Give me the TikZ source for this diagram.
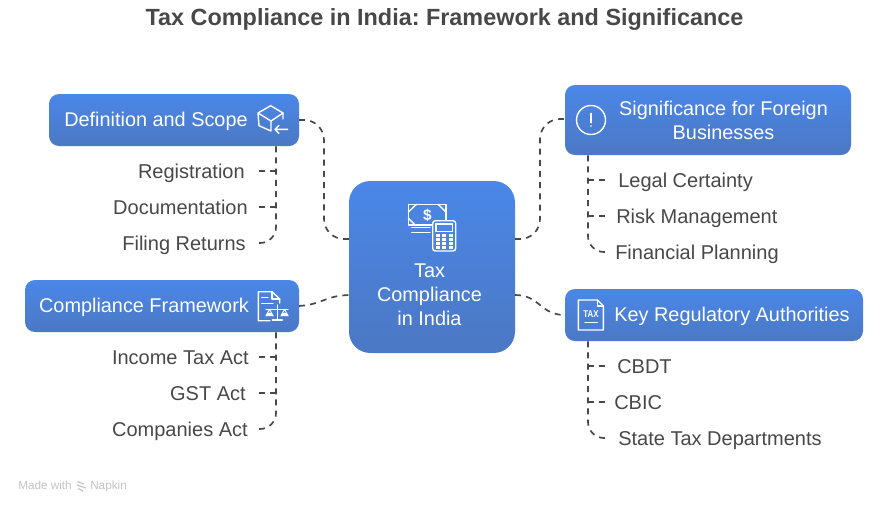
\documentclass[tikz,border=0pt]{standalone}
\usepackage{fontspec}
\setmainfont{Liberation Sans}
\usetikzlibrary{calc}
\definecolor{boxtop}{HTML}{4A87E8}
\definecolor{boxbot}{HTML}{4C78C4}
\definecolor{ink}{HTML}{484848}
\definecolor{wm}{HTML}{C4C4C4}
\tikzset{
  x=0.75pt,y=-0.75pt,
  boxnode/.style={rounded corners=7.5pt,top color=boxtop,bottom color=boxbot,draw=none,inner sep=0pt},
  boxtext/.style={text=white,font=\fontsize{14.9pt}{18pt}\selectfont,align=center,inner sep=0pt},
  leaflabel/.style={text=ink,font=\fontsize{15pt}{18pt}\selectfont,inner sep=0pt,text height=11pt,text depth=0.3pt},
  dashline/.style={draw=ink,line width=1.25pt,dash pattern=on 4.5pt off 3.9pt},
  icon/.style={draw=white,line width=1.05pt,line join=round,line cap=round},
  wmtext/.style={text=wm,font=\fontsize{8.8pt}{10pt}\selectfont,inner sep=0pt,anchor=west,text height=6.5pt,text depth=2pt},
}
\begin{document}
\frenchspacing
\begin{tikzpicture}
\useasboundingbox (0,0) rectangle (888,508);
\fill[white] (0,0) rectangle (888,508);
\node[text=ink,font=\bfseries\fontsize{17.55pt}{22pt}\selectfont,inner sep=0pt] (title) at (444.5,19.5) {Tax Compliance in India: Framework and Significance};

% boxes
\node[boxnode,rounded corners=16pt,minimum width=124.5pt,minimum height=129pt] (main) at (432,267) {};
\node[boxnode,minimum width=187.5pt,minimum height=39pt] (def) at (174,120) {};
\node[boxnode,minimum width=205.5pt,minimum height=39pt] (comp) at (162,306) {};
\node[boxnode,minimum width=214.5pt,minimum height=52.5pt] (sig) at (708,120) {};
\node[boxnode,minimum width=223.5pt,minimum height=39pt] (key) at (714,315) {};

% box texts
\node[boxtext] (maint) at (429.5,295) {Tax\\Compliance\\in India};
\node[boxtext] (deft) at (156,121) {Definition and Scope};
\node[boxtext] (compt) at (144,307) {Compliance Framework};
\node[boxtext] (sigt) at (723.5,120) {Significance for Foreign\\Businesses};
\node[boxtext] (keyt) at (732,316) {Key Regulatory Authorities};

% leaf labels
\node[leaflabel,anchor=east] (l1) at (245,171) {Registration};
\node[leaflabel,anchor=east] (l2) at (248,207) {Documentation};
\node[leaflabel,anchor=east] (l3) at (246,243) {Filing Returns};
\node[leaflabel,anchor=east] (l4) at (249,357) {Income Tax Act};
\node[leaflabel,anchor=east] (l5) at (246,393) {GST Act};
\node[leaflabel,anchor=east] (l6) at (248,429) {Companies Act};
\node[leaflabel,anchor=west] (r1) at (618,180) {Legal Certainty};
\node[leaflabel,anchor=west] (r2) at (616,216) {Risk Management};
\node[leaflabel,anchor=west] (r3) at (615,252) {Financial Planning};
\node[leaflabel,anchor=west] (r4) at (617,366) {CBDT};
\node[leaflabel,anchor=west] (r5) at (614,402) {CBIC};
\node[leaflabel,anchor=west] (r6) at (618,438) {State Tax Departments};

% helper columns
\coordinate (ltr) at (276,0);
\coordinate (lend) at (256,0);
\coordinate (rtr) at (588,0);
\coordinate (rend) at (608,0);
\coordinate (mainL1) at (349,239);
\coordinate (mainL2) at (349,295);
\coordinate (mainR1) at (515,239);
\coordinate (mainR2) at (515,295);
\coordinate (defE) at (299,120);
\coordinate (compE) at (299,306);
\coordinate (sigW) at (565,119);
\coordinate (keyW) at (565,315);

% main connectors
\draw[dashline,rounded corners=15pt] (defE) -- (324,120) -- (324,239) -- (mainL1);
\draw[dashline] (compE) .. controls (324,304) and (324,296) .. (mainL2);
\draw[dashline,rounded corners=15pt] (mainR1) -- (540,239) -- (540,119) -- (sigW);
\draw[dashline] (mainR2) .. controls (540,295) and (540,315) .. (keyW);

% leaf connectors
\draw[dashline,rounded corners=12pt] (ltr |- def.south) -- (ltr |- l3) -- (lend |- l3);
\draw[dashline] (ltr |- l1) -- ($(lend |- l1)+(2,0)$);
\draw[dashline] (ltr |- l2) -- ($(lend |- l2)+(2,0)$);
\draw[dashline,rounded corners=12pt] (ltr |- comp.south) -- (ltr |- l6) -- (lend |- l6);
\draw[dashline] (ltr |- l4) -- ($(lend |- l4)+(2,0)$);
\draw[dashline] (ltr |- l5) -- ($(lend |- l5)+(2,0)$);
\draw[dashline,rounded corners=12pt] (rtr |- sig.south) -- (rtr |- r3) -- (rend |- r3);
\draw[dashline] (rtr |- r1) -- ($(rend |- r1)+(-1,0)$);
\draw[dashline] (rtr |- r2) -- ($(rend |- r2)+(-1,0)$);
\draw[dashline,rounded corners=12pt] (rtr |- key.south) -- (rtr |- r6) -- (rend |- r6);
\draw[dashline] (rtr |- r4) -- ($(rend |- r4)+(-1,0)$);
\draw[dashline] (rtr |- r5) -- ($(rend |- r5)+(-1,0)$);

% cube icon
\draw[icon] (283,119) -- (283,113) -- (270.7,105.7) -- (258,113) -- (259,125.7) -- (271,131) -- (271,121) -- (258,113);
\draw[icon] (271,121) -- (283,113);
\draw[icon] (287.7,129.3) -- (275,129.3) (279,125.5) -- (275,129.3) -- (279,133.3);

% scales and document icon
\draw[icon] (270,320.7) -- (258.3,320.7) -- (258.3,291.7) -- (272,291.7) -- (279.7,299) -- (279.7,303);
\draw[icon] (272,291.7) -- (272,299) -- (279.7,299);
\draw[icon] (261.7,297.3) -- (268,297.3) (261.7,303.3) -- (273,303.3);
\draw[icon] (277.3,305) -- (277.3,320) (272.3,320) -- (282.3,320) (266,309.3) -- (288,309.3);
\draw[icon,line width=0.7pt] (269.5,309.3) -- (266,316) (269.5,309.3) -- (273,316) (284.5,309.3) -- (281,316) (284.5,309.3) -- (288,316);
\fill[white] (265.5,316) arc[start angle=180,end angle=360,x radius=4,y radius=3.4] -- cycle;
\fill[white] (280.5,316) arc[start angle=180,end angle=360,x radius=4,y radius=3.4] -- cycle;

% info icon
\draw[icon] (591,120) circle[radius=14.5];
\draw[icon] (591,113.3) -- (591,122.7);
\fill[white] (591,126) circle[radius=0.8];

% tax document icon
\draw[icon] (597.3,300) -- (578.3,300) -- (578.3,330) -- (603.3,330) -- (603.3,306) -- cycle;
\draw[icon] (597.3,300) -- (597.3,306) -- (603.3,306);
\node[text=white,font=\bfseries\fontsize{7.4pt}{8pt}\selectfont,inner sep=0pt,xscale=0.8] (taxlbl) at (591,314.5) {TAX};
\draw[icon] (585,322.3) -- (597.3,322.3);

% bill and calculator icon
\draw[icon] (408.3,204.3) rectangle (446,225);
\draw[icon] (416.5,204.3) -- (408.3,212) (408.3,218) -- (415,225) (438,204.3) -- (446,212);
\node[text=white,font=\bfseries\fontsize{11.5pt}{12pt}\selectfont,inner sep=0pt] (dollar) at (427.3,215) {\$};
\draw[icon] (411.7,227.3) -- (430,227.3) (411.7,232.3) -- (430,232.3);
\filldraw[icon,fill=boxtop!92!boxbot,rounded corners=2pt] (432.7,220.7) rectangle (455.7,251);
\draw[icon] (436,224) rectangle (452.3,231.7);
\foreach \yy in {235.5,239.5,243.5,247.5}
  \foreach \xx in {437.5,444.2,451}
    \fill[white] (\xx-2,\yy-1.1) rectangle (\xx+2,\yy+1.1);

% watermark
\node[wmtext] (made) at (18,486) {Made with};
\draw[wm,line width=0.9pt] (77.5,481.5) -- (84,484) (77,485) -- (86,488) (78,488.5) -- (83,491);
\node[wmtext] (napkin) at (90,486) {Napkin};
\end{tikzpicture}
\end{document}
